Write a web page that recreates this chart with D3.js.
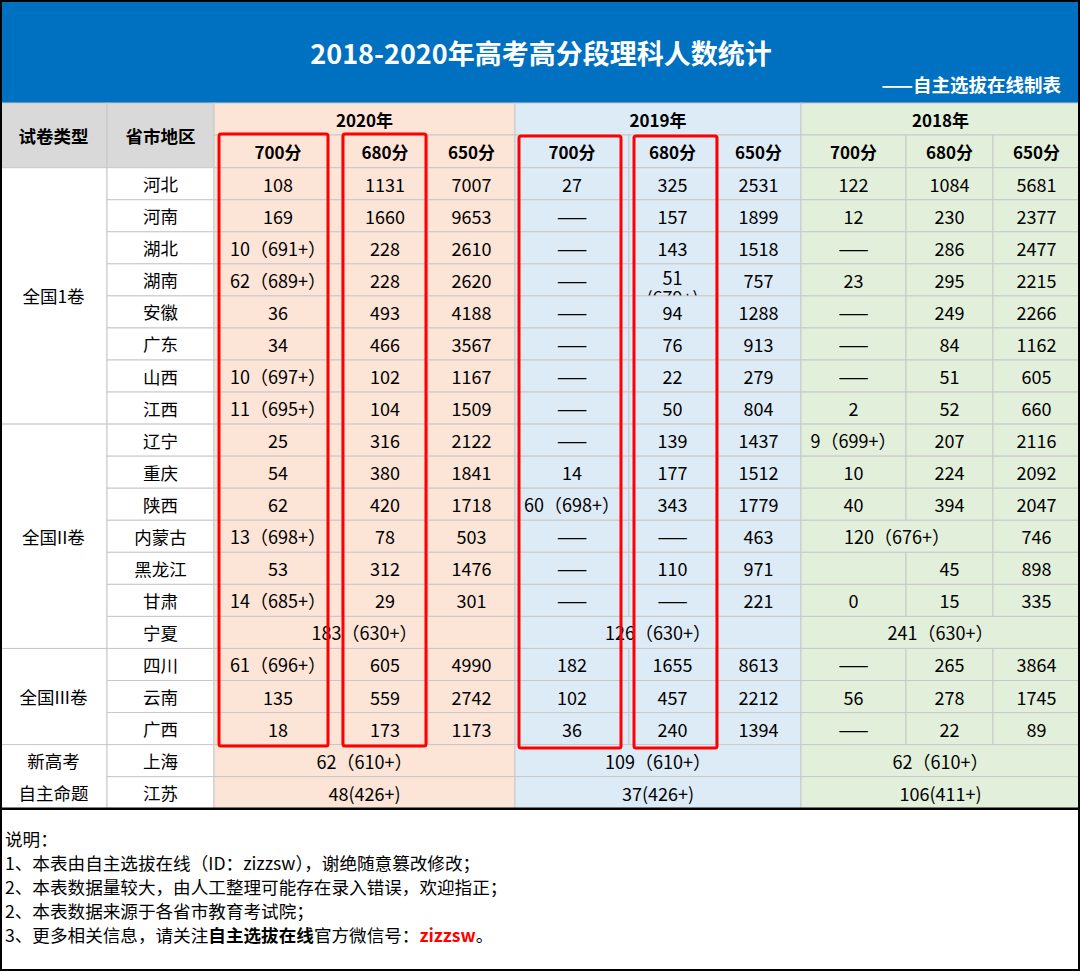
<!DOCTYPE html>
<html>
<head>
<meta charset="utf-8">
<script src="https://cdn.jsdelivr.net/npm/d3@7"></script>
<style>
  body { margin: 0; background: #fff; }
  text { font-family: "Noto Sans CJK SC", "Noto Sans", sans-serif; }
</style>
</head>
<body>
<div id="chart"></div>
<script>
// ---- data ----
var title = "2018-2020年高考高分段理科人数统计"
var subtitle = "——自主选拔在线制表"
var headLeft = ["试卷类型", "省市地区"]
var years = ["2020年", "2019年", "2018年"]
var scores = ["700分", "680分", "650分"]
var groups = [["全国1卷", 8], ["全国II卷", 7], ["全国III卷", 3], ["新高考\n自主命题", 2]]
var provinces = ["河北","河南","湖北","湖南","安徽","广东","山西","江西","辽宁","重庆",
                 "陕西","内蒙古","黑龙江","甘肃","宁夏","四川","云南","广西","上海","江苏"]

// null = merged with the cell on its left
var v2020 = [
  ["108","1131","7007"], ["169","1660","9653"], ["10（691+）","228","2610"],
  ["62（689+）","228","2620"], ["36","493","4188"], ["34","466","3567"],
  ["10（697+）","102","1167"], ["11（695+）","104","1509"], ["25","316","2122"],
  ["54","380","1841"], ["62","420","1718"], ["13（698+）","78","503"],
  ["53","312","1476"], ["14（685+）","29","301"], ["183（630+）",null,null],
  ["61（696+）","605","4990"], ["135","559","2742"], ["18","173","1173"],
  ["62（610+）",null,null], ["48(426+)",null,null]
]
var v2019 = [
  ["27","325","2531"], ["——","157","1899"], ["——","143","1518"],
  ["——","51\n(679+)","757"], ["——","94","1288"], ["——","76","913"],
  ["——","22","279"], ["——","50","804"], ["——","139","1437"],
  ["14","177","1512"], ["60（698+）","343","1779"], ["——","——","463"],
  ["——","110","971"], ["——","——","221"], ["126（630+）",null,null],
  ["182","1655","8613"], ["102","457","2212"], ["36","240","1394"],
  ["109（610+）",null,null], ["37(426+)",null,null]
]
var v2018 = [
  ["122","1084","5681"], ["12","230","2377"], ["——","286","2477"],
  ["23","295","2215"], ["——","249","2266"], ["——","84","1162"],
  ["——","51","605"], ["2","52","660"], ["9（699+）","207","2116"],
  ["10","224","2092"], ["40","394","2047"], ["120（676+）",null,"746"],
  ["","45","898"], ["0","15","335"], ["241（630+）",null,null],
  ["——","265","3864"], ["56","278","1745"], ["——","22","89"],
  ["62（610+）",null,null], ["106(411+)",null,null]
]
var values = [v2020, v2019, v2018]

var notes = [
  [["说明：", ""]],
  [["1、本表由自主选拔在线（ID：zizzsw），谢绝随意篡改修改；", ""]],
  [["2、本表数据量较大，由人工整理可能存在录入错误，欢迎指正；", ""]],
  [["2、本表数据来源于各省市教育考试院；", ""]],
  [["3、更多相关信息，请关注", ""], ["自主选拔在线", "b"], ["官方微信号：", ""], ["zizzsw", "r"], ["。", ""]]
]

// ---- layout ----
var W = 1080, H = 971
var colEdges = [0, 107, 214, 342, 428, 515, 629, 716, 801, 906, 993, 1080]
var yearFill = ["#fce4d6", "#ddebf7", "#e2efda"]
var gridColor = "#c8c8c8"
var headTop = 103, headMid = 135, dataTop = 167.7, dataBottom = 808.7

var svg = d3.select("#chart").append("svg")
  .attr("width", W).attr("height", H)

var y = d3.scaleBand().domain(d3.range(provinces.length)).range([dataTop, dataBottom])
var colX = function(i) { return colEdges[i] }

// title band
svg.append("rect").attr("x", 0).attr("y", 0).attr("width", W).attr("height", headTop)
  .attr("fill", "#0070c0")
svg.append("text").attr("x", 541).attr("y", 52)
  .attr("text-anchor", "middle").attr("dominant-baseline", "central")
  .attr("fill", "#fff").attr("font-weight", "bold").attr("font-size", 27)
  .text(title)
svg.append("text").attr("x", 1061).attr("y", 84)
  .attr("text-anchor", "end").attr("dominant-baseline", "central")
  .attr("fill", "#fff").attr("font-weight", "bold").attr("font-size", 18.5)
  .text(subtitle)

function cell(x0, x1, y0, y1, fill, txt, opts) {
  opts = opts || {}
  svg.append("rect").attr("x", x0).attr("y", y0)
    .attr("width", x1 - x0).attr("height", y1 - y0)
    .attr("fill", fill).attr("stroke", gridColor).attr("stroke-width", 1)
  if (!txt) return
  var lines = txt.split("\n")
  var t = svg.append("text")
    .attr("x", (x0 + x1) / 2)
    .attr("text-anchor", "middle")
    .attr("font-size", opts.size || 18)
    .attr("font-weight", opts.bold ? "bold" : "normal")
    .attr("fill", "#000")
  if (opts.clip) {
    var id = "clip" + Math.round(x0) + "_" + Math.round(y0)
    svg.append("clipPath").attr("id", id).append("rect")
      .attr("x", x0).attr("y", y0).attr("width", x1 - x0).attr("height", y1 - y0)
    t.attr("clip-path", "url(#" + id + ")")
  }
  var cy = (y0 + y1) / 2
  var lh = opts.lh || 22
  var first = opts.clip ? cy - 3 : cy - (lines.length - 1) * lh / 2
  lines.forEach(function(l, i) {
    t.append("tspan").attr("x", (x0 + x1) / 2).attr("y", first + i * lh)
      .attr("dominant-baseline", "central").text(l)
  })
}

// header left
headLeft.forEach(function(h, i) {
  cell(colX(i), colX(i + 1), headTop, dataTop, "#d9d9d9", h, {bold: true, size: 17.5})
})
// year + score headers
years.forEach(function(yr, g) {
  var c0 = 2 + g * 3
  cell(colX(c0), colX(c0 + 3), headTop, headMid, yearFill[g], yr, {bold: true, size: 17})
  scores.forEach(function(s, k) {
    cell(colX(c0 + k), colX(c0 + k + 1), headMid, dataTop, yearFill[g], s, {bold: true, size: 17})
  })
})

// group column
var r = 0
groups.forEach(function(g) {
  cell(colX(0), colX(1), y(r), y(r + g[1] - 1) + y.bandwidth(), "#fff", g[0], {lh: 31.5, size: 17.5})
  r += g[1]
})
// province column
provinces.forEach(function(p, i) {
  cell(colX(1), colX(2), y(i), y(i) + y.bandwidth(), "#fff", p, {size: 17.5})
})

// values
values.forEach(function(rows, g) {
  rows.forEach(function(row, i) {
    for (var k = 0; k < 3; k++) {
      if (row[k] === null) continue
      var span = 1
      while (k + span < 3 && row[k + span] === null) span++
      var c0 = 2 + g * 3 + k
      cell(colX(c0), colX(c0 + span), y(i), y(i) + y.bandwidth(), yearFill[g], row[k],
           {clip: row[k].indexOf("\n") >= 0, lh: 20})
    }
  })
})

// red highlight boxes: [column index, left inset, right inset, top, bottom]
var boxes = [[2, 5, 14, 134, 746], [3, 1, 2, 134, 746], [5, 4, 8, 136, 748], [6, 5, -1, 136, 748]]
svg.selectAll("rect.box").data(boxes).enter().append("rect")
  .attr("class", "box")
  .attr("x", function(d) { return colX(d[0]) + d[1] })
  .attr("y", function(d) { return d[3] })
  .attr("width", function(d) { return colX(d[0] + 1) - d[2] - colX(d[0]) - d[1] })
  .attr("height", function(d) { return d[4] - d[3] })
  .attr("rx", 2)
  .attr("fill", "none").attr("stroke", "#ff0000").attr("stroke-width", 3)

// thick line under table
svg.append("line").attr("x1", 0).attr("x2", W).attr("y1", dataBottom).attr("y2", dataBottom)
  .attr("stroke", "#000").attr("stroke-width", 2.5)

// notes
notes.forEach(function(line, i) {
  var t = svg.append("text").attr("x", 5).attr("y", 846 + i * 24)
    .attr("font-size", 17.6).attr("fill", "#000")
  line.forEach(function(seg) {
    t.append("tspan").text(seg[0])
      .attr("font-weight", seg[1] ? "bold" : "normal")
      .attr("fill", seg[1] === "r" ? "#ff0000" : "#000")
  })
})

// outer border
svg.append("rect").attr("x", 1).attr("y", 1).attr("width", W - 2).attr("height", H - 2)
  .attr("fill", "none").attr("stroke", "#000").attr("stroke-width", 2)
</script>
</body>
</html>
